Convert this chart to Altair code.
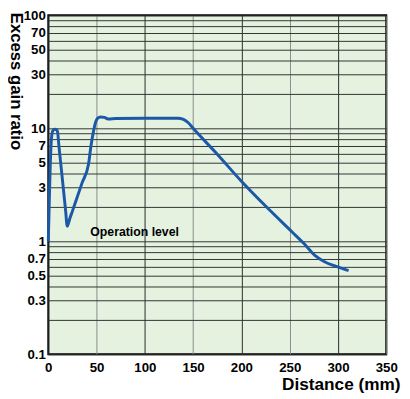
import altair as alt
import pandas as pd

# Curve (distance in mm, excess gain ratio)
distance = [0, 1, 2, 3, 3.7, 5, 7, 8.5, 9.5, 11.2, 12, 14, 16, 18, 19.6, 21, 22, 25, 30, 35, 41.7,
            44, 46.8, 49, 51.2, 54, 58, 62, 70, 100, 134, 140, 145, 150, 175, 200, 225, 252,
            265, 276, 286, 298, 311]
gain = [1.0, 2.2, 4.6, 7.5, 8.8, 9.6, 9.8, 9.7, 9.4, 6.7, 5.8, 3.97, 2.71, 1.85, 1.36, 1.45,
        1.56, 1.85, 2.47, 3.29, 4.83, 6.8, 9.4, 11.3, 12.3, 12.6, 12.5, 12.1, 12.2, 12.3, 12.3,
        12.0, 11.2, 10.0, 5.9, 3.4, 2.05, 1.22, 0.95, 0.75, 0.66, 0.6, 0.55]

x_ticks = [0, 50, 100, 150, 200, 250, 300, 350]
y_grid = [0.1, 0.2, 0.3, 0.4, 0.5, 0.6, 0.7, 0.8, 0.9,
          1, 2, 3, 4, 5, 6, 7, 8, 9,
          10, 20, 30, 40, 50, 60, 70, 80, 90, 100]
y_labels = [0.1, 0.3, 0.5, 0.7, 1, 3, 5, 7, 10, 30, 50, 70, 100]

note_text = ["Operation level"]
note_x = [43.5]
note_y = [1.21]

df = pd.DataFrame({"d": distance, "g": gain})
notes = pd.DataFrame({"t": note_text, "x": note_x, "y": note_y})

FONT = "Liberation Sans, Arial, Noto Sans CJK JP, sans-serif"

label_list = ",".join(str(v) for v in y_labels)

xscale = alt.Scale(domain=[0, 350], nice=False, zero=False)
yscale = alt.Scale(type="log", domain=[0.1, 100], nice=False)

x_axis = alt.Axis(
    values=x_ticks, title="Distance (mm)", grid=True,
    gridColor={"condition": {"test": "datum.value % 100 == 50", "value": "#8a8a8a"}, "value": "#2a2a2a"},
    gridWidth=1, ticks=False, domain=False, labelPadding=7, labelFlush=False,
    labelFont=FONT, labelFontSize=13.5, labelFontWeight="bold", labelColor="#000",
    titleFont=FONT, titleFontSize=17.5, titleFontWeight="bold", titleColor="#000",
    titleAlign="right", titleBaseline="alphabetic", titleX=358, titleY=36,
)
y_axis = alt.Axis(
    values=y_grid, title="Excess gain ratio", grid=True, gridColor="#333", gridWidth=1,
    ticks=False, domain=False, labelPadding=3, labelFlush=False, labelOverlap=False,
    labelExpr=f"indexof([{label_list}], datum.value) >= 0 ? format(datum.value, '~g') : ''",
    labelFont=FONT, labelFontSize=13.5, labelFontWeight="bold", labelColor="#000",
    titleFont=FONT, titleFontSize=17, titleFontWeight="bold", titleColor="#000",
    titleAngle=90, titleAlign="left", titleBaseline="middle", titleX=-33, titleY=-3,
)

line = alt.Chart(df).mark_line(color="#1c58a8", strokeWidth=3, interpolate="monotone").encode(
    x=alt.X("d:Q", scale=xscale, axis=x_axis),
    y=alt.Y("g:Q", scale=yscale, axis=y_axis),
)

text = alt.Chart(notes).mark_text(
    align="left", baseline="middle", font=FONT,
    fontSize=12.5, fontWeight="bold", color="#000",
).encode(
    x=alt.X("x:Q", scale=xscale),
    y=alt.Y("y:Q", scale=yscale),
    text="t:N",
)

chart = (line + text).properties(
    width=344, height=345,
    autosize=alt.AutoSizeParams(type="none"),
    padding={"left": 41, "top": 4, "right": 16, "bottom": 40},
    background="white",
).configure_view(fill="#e4f2df", stroke="#000", strokeWidth=2)

chart.save("out.html", embed_options={"renderer": "svg", "actions": False})
